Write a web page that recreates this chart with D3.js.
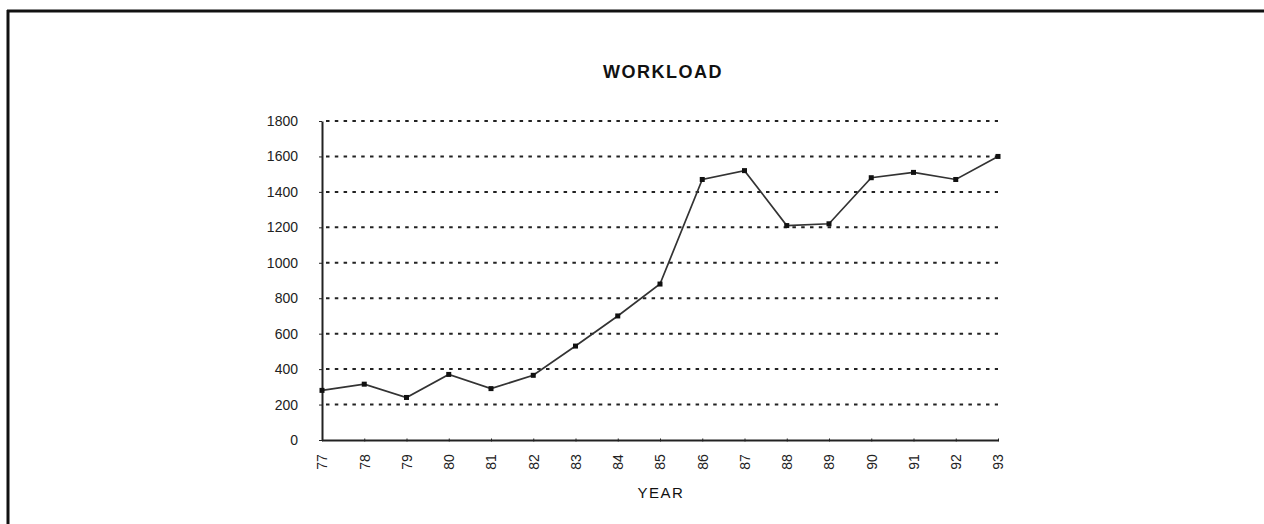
<!DOCTYPE html>
<html>
<head>
<meta charset="utf-8">
<script src="https://cdn.jsdelivr.net/npm/d3@7"></script>
<style>
    body { margin: 0; background: #fff; }
    svg { display: block; }
    .tick text { font-family: "Liberation Sans", Arial, sans-serif; font-size: 14px; fill: #222; }
</style>
</head>
<body>
<div id="chart"></div>
<script>
// -----------------------------
// data
// -----------------------------

const years = ['77', '78', '79', '80', '81', '82', '83', '84', '85', '86', '87', '88', '89', '90', '91', '92', '93']
const workload = [280, 315, 240, 370, 290, 365, 530, 700, 880, 1470, 1520, 1210, 1220, 1480, 1510, 1470, 1600]
const yTicks = [0, 200, 400, 600, 800, 1000, 1200, 1400, 1600, 1800]

// -----------------------------
// layout
// -----------------------------

const w = 1264
const h = 524
const plot = {left: 322, right: 998, top: 121, bottom: 440}

const svg = d3.select('#chart')
    .append('svg')
    .attr('width', w)
    .attr('height', h)

// page frame (top and left edges of the scanned sheet)
svg.append('line')
    .attr('x1', 7).attr('x2', w).attr('y1', 11).attr('y2', 11)
    .attr('stroke', '#111').attr('stroke-width', 3)
svg.append('line')
    .attr('x1', 8).attr('x2', 8).attr('y1', 10).attr('y2', h)
    .attr('stroke', '#111').attr('stroke-width', 3)

const x = d3.scalePoint()
    .domain(years)
    .range([plot.left, plot.right])

const y = d3.scaleLinear()
    .domain([0, 1800])
    .range([plot.bottom, plot.top])

// gridlines
svg.append('g')
    .selectAll('line.grid')
    .data(yTicks.filter(d => d > 0))
    .enter()
    .append('line')
    .attr('class', 'grid')
    .attr('x1', plot.left + 4)
    .attr('x2', plot.right)
    .attr('y1', d => y(d))
    .attr('y2', d => y(d))
    .attr('stroke', '#222')
    .attr('stroke-width', 2)
    .attr('stroke-dasharray', '3.5 5.3')

// y axis
const yAxis = d3.axisLeft(y)
    .tickValues(yTicks)
    .tickFormat(d3.format('d'))
    .tickSize(3)
    .tickPadding(21)
    .tickSizeOuter(0)

const gy = svg.append('g')
    .attr('transform', 'translate(' + plot.left + ',0)')
    .call(yAxis)
gy.select('.domain').attr('stroke', '#222').attr('stroke-width', 2)
gy.selectAll('.tick line').attr('stroke', '#222')

// x axis
const xAxis = d3.axisBottom(x)
    .tickSize(3)
    .tickSizeOuter(0)

const gx = svg.append('g')
    .attr('transform', 'translate(0,' + plot.bottom + ')')
    .call(xAxis)
gx.select('.domain').attr('stroke', '#222').attr('stroke-width', 2)
gx.selectAll('.tick line').attr('stroke', '#222').attr('transform', 'translate(0,-1.5)')
gx.selectAll('.tick text')
    .attr('transform', 'translate(0,22) rotate(-90)')
    .attr('x', 0)
    .attr('y', 0)
    .attr('dy', '0.35em')
    .attr('text-anchor', 'middle')

// -----------------------------
// series
// -----------------------------

const line = d3.line()
    .x((d, i) => x(years[i]))
    .y(d => y(d))

svg.append('path')
    .datum(workload)
    .attr('d', line)
    .attr('fill', 'none')
    .attr('stroke', '#333')
    .attr('stroke-width', 1.7)

svg.append('g')
    .selectAll('rect.point')
    .data(workload)
    .enter()
    .append('rect')
    .attr('class', 'point')
    .attr('x', (d, i) => x(years[i]) - 2.5)
    .attr('y', d => y(d) - 2.5)
    .attr('width', 5)
    .attr('height', 5)
    .attr('fill', '#111')

// -----------------------------
// titles
// -----------------------------

svg.append('text')
    .attr('x', 663)
    .attr('y', 78)
    .attr('text-anchor', 'middle')
    .attr('font-family', '"Liberation Sans", Arial, sans-serif')
    .attr('font-size', 18)
    .attr('font-weight', 'bold')
    .attr('letter-spacing', 1.5)
    .attr('fill', '#111')
    .text('WORKLOAD')

svg.append('text')
    .attr('x', 661)
    .attr('y', 498)
    .attr('text-anchor', 'middle')
    .attr('font-family', '"Liberation Sans", Arial, sans-serif')
    .attr('font-size', 15)
    .attr('letter-spacing', 1.5)
    .attr('fill', '#111')
    .text('YEAR')
</script>
</body>
</html>
